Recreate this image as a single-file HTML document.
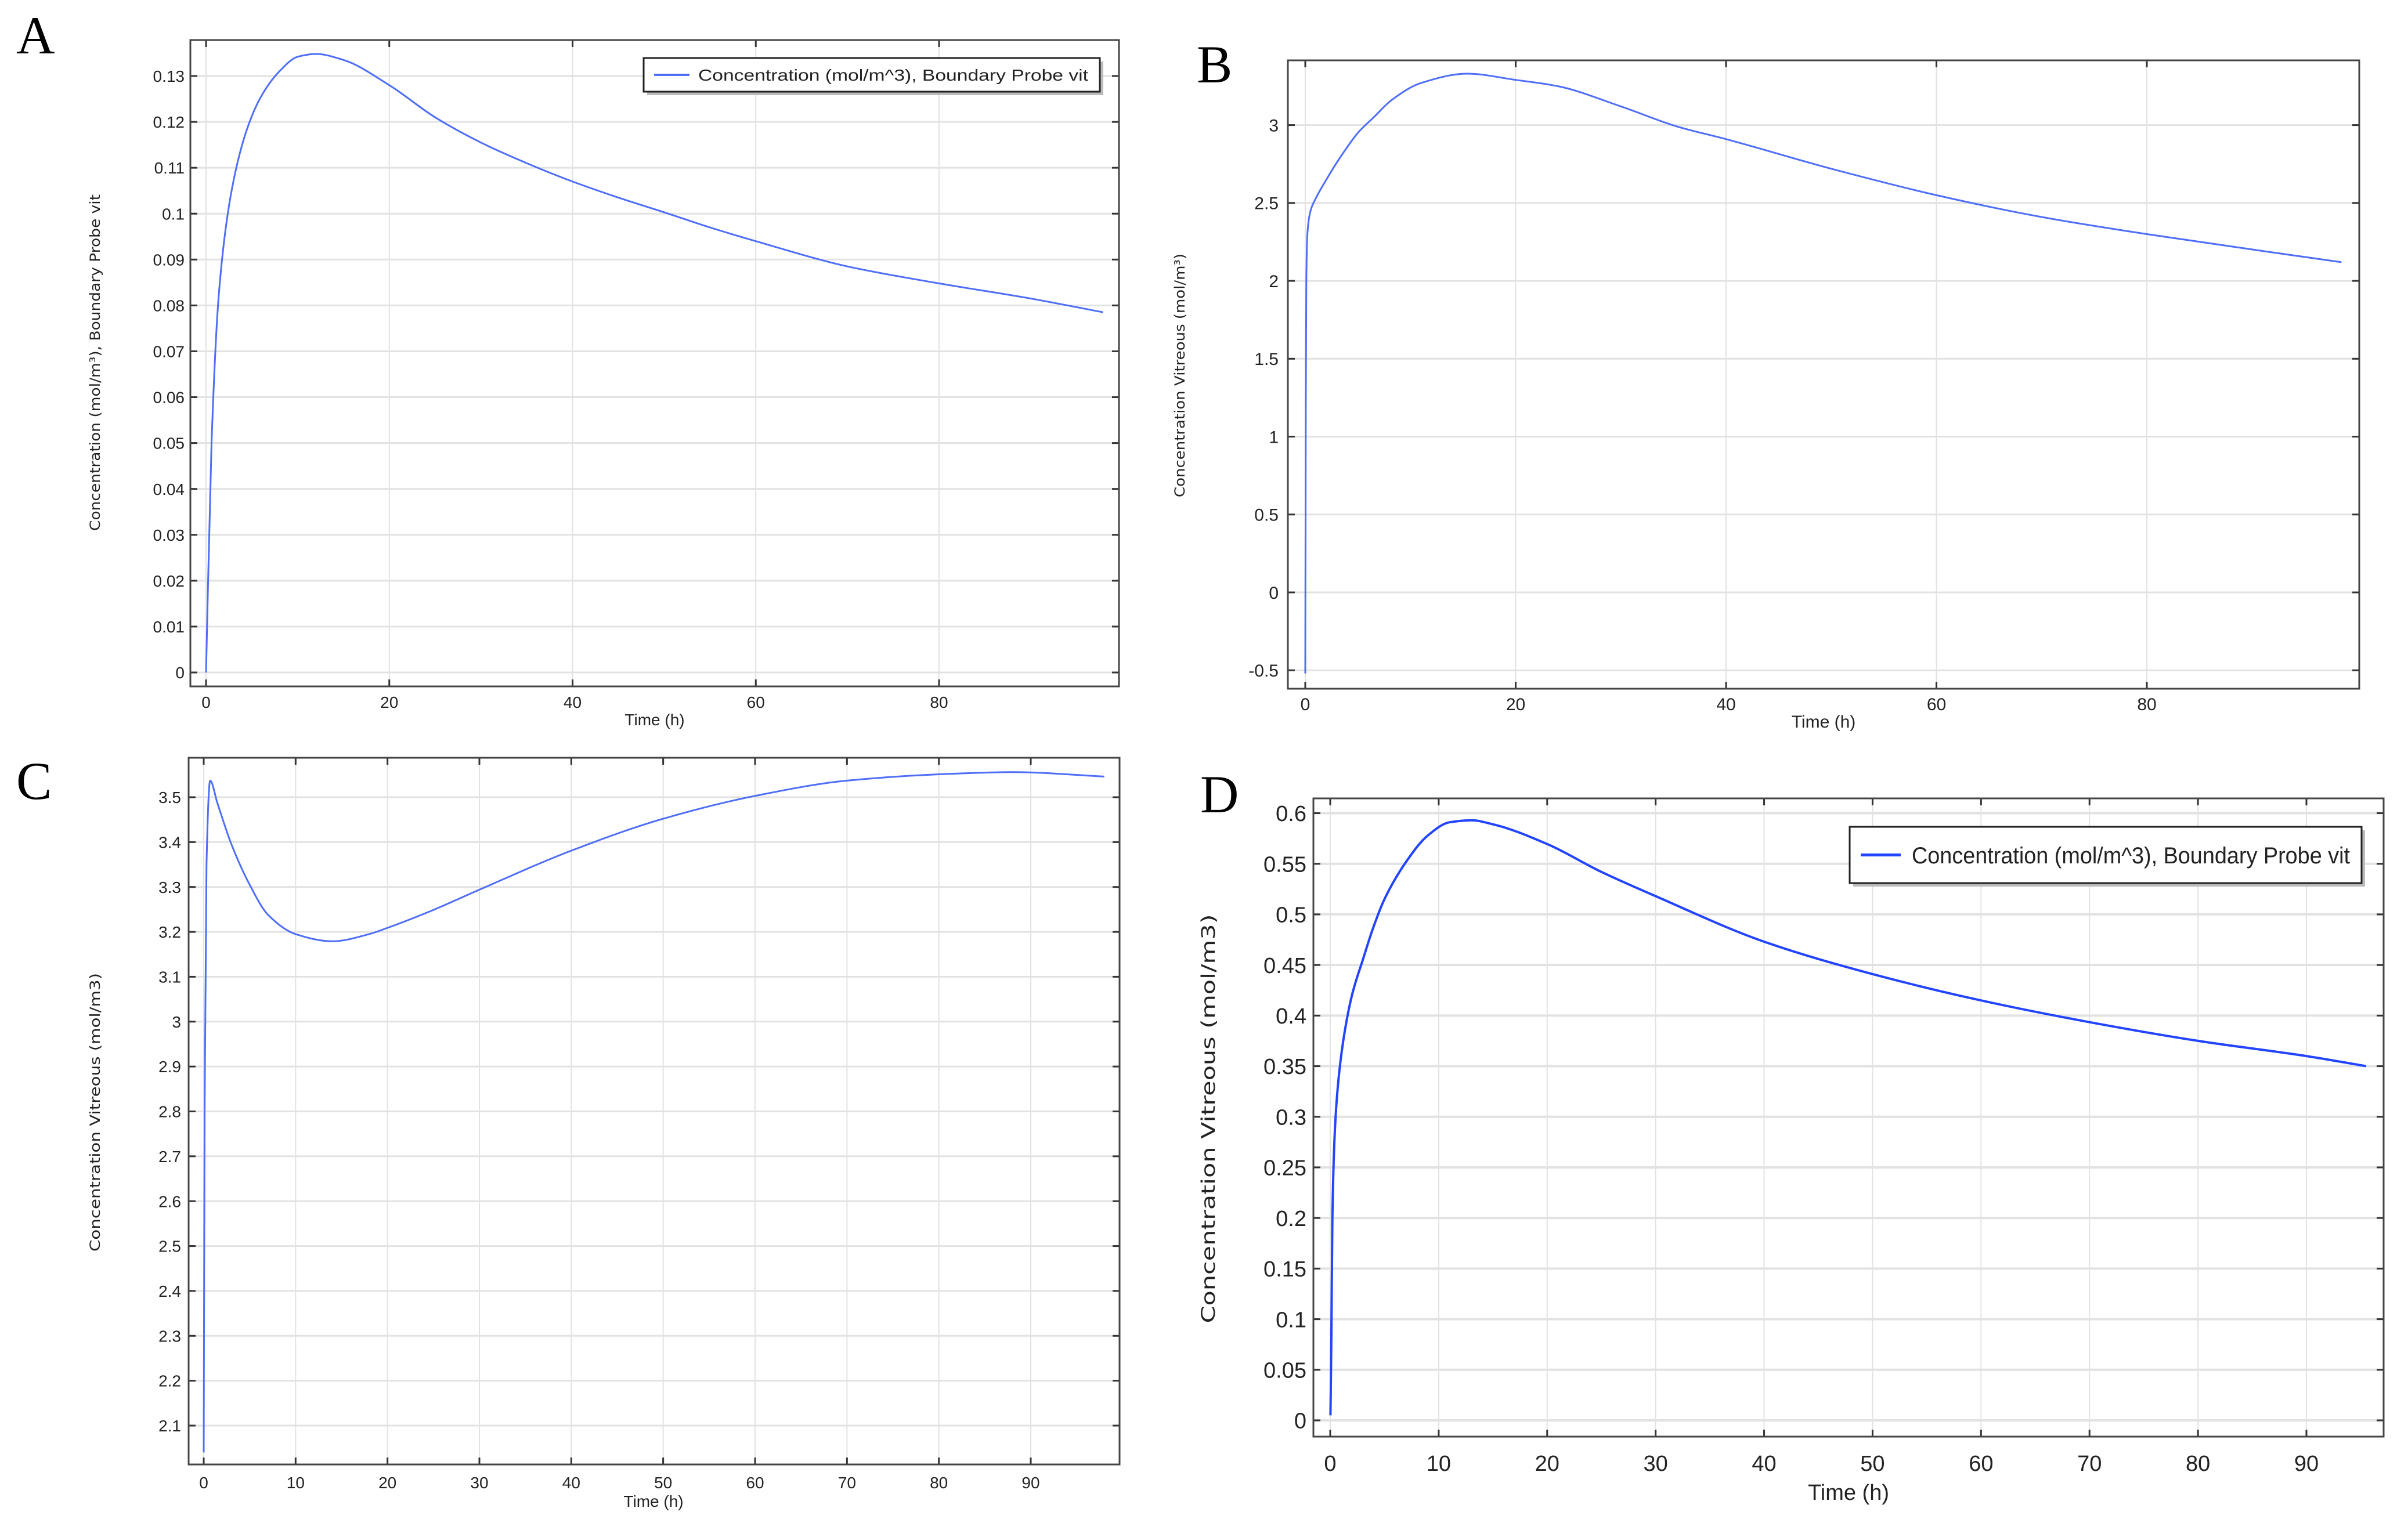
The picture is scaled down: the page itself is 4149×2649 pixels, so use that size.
<!DOCTYPE html>
<html><head><meta charset="utf-8"><style>
html,body{margin:0;padding:0;background:#fff}
svg{display:block}
text{font-family:"Liberation Sans",sans-serif}
.lbl{font-family:"Liberation Serif",serif;font-size:92px;fill:#000}
.ttl{font-family:"DejaVu Sans","Liberation Sans",sans-serif;fill:#222}
</style></head><body>
<svg id="fig" width="4149" height="2649" viewBox="0 0 4149 2649" xmlns="http://www.w3.org/2000/svg">
<text class="lbl" x="28" y="92">A</text>
<text class="lbl" x="2062" y="142">B</text>
<text class="lbl" x="28" y="1377">C</text>
<text class="lbl" x="2068" y="1400">D</text>
</svg>
<script>
// Panel A data
const aTime=[0,0.6,1.4,2.7,4.4,6,8,10,12,15,20,25,30,35,40,45,50,55,60,70,80,90,97.9];
const aConc=[0,0.05,0.0825,0.104,0.118,0.1255,0.131,0.1342,0.1348,0.1335,0.128,0.121,0.1155,0.111,0.107,0.1035,0.1003,0.097,0.094,0.0885,0.0848,0.0815,0.0785];
const aXTicks=[0,20,40,60,80];
const aYTicks=[0,0.01,0.02,0.03,0.04,0.05,0.06,0.07,0.08,0.09,0.1,0.11,0.12,0.13];
// Panel B data
const bTime=[0,0.05,0.1,0.2,0.5,1,2,3,4,5,6.5,8.2,11,15.4,20,24,30,35.4,40,50,60,70,80,98.5];
const bConc=[-0.52,1.2,2.0,2.3,2.45,2.53,2.65,2.76,2.86,2.95,3.05,3.16,3.27,3.33,3.29,3.25,3.12,2.99,2.91,2.72,2.55,2.41,2.30,2.12];
const bXTicks=[0,20,40,60,80];
const bYTicks=[-0.5,0,0.5,1,1.5,2,2.5,3];
// Panel C data
const cTime=[0,0.1,0.3,0.7,1.5,3,5,7,10,14,18,20,25,30,40,50,60,70,80,88,98];
const cConc=[2.04,2.81,3.35,3.537,3.486,3.396,3.305,3.238,3.195,3.179,3.195,3.209,3.249,3.294,3.381,3.452,3.503,3.537,3.551,3.556,3.546];
const cXTicks=[0,10,20,30,40,50,60,70,80,90];
const cYTicks=[2.1,2.2,2.3,2.4,2.5,2.6,2.7,2.8,2.9,3,3.1,3.2,3.3,3.4,3.5];
// Panel D data
const dTime=[0.02,0.1,0.2,0.4,0.7,1.2,2,3,4,5,7,9,11,13,15,20,25,30,40,50,60,70,80,90,95.5];
const dConc=[0.005,0.08,0.2,0.28,0.33,0.375,0.42,0.455,0.488,0.515,0.552,0.578,0.591,0.593,0.589,0.5695,0.542,0.518,0.473,0.441,0.415,0.3935,0.375,0.36,0.35];
const dXTicks=[0,10,20,30,40,50,60,70,80,90];
const dYTicks=[0,0.05,0.1,0.15,0.2,0.25,0.3,0.35,0.4,0.45,0.5,0.55,0.6];

const NS="http://www.w3.org/2000/svg";
const svg=document.getElementById('fig');
function mk(tag,attrs,parent){const e=document.createElementNS(NS,tag);for(const k in attrs)e.setAttribute(k,attrs[k]);(parent||svg).appendChild(e);return e;}

function monoPath(px,py){
  const n=px.length;
  if(n<3){return px.map((x,i)=>(i?'L':'M')+x.toFixed(1)+' '+py[i].toFixed(1)).join('');}
  const dx=[],s=[];
  for(let i=0;i<n-1;i++){dx.push(px[i+1]-px[i]);s.push((py[i+1]-py[i])/(dx[i]||1e-6));}
  const m=new Array(n);
  m[0]=s[0];m[n-1]=s[n-2];
  for(let i=1;i<n-1;i++){
    if(s[i-1]*s[i]<=0)m[i]=0;
    else{const w1=2*dx[i]+dx[i-1],w2=dx[i]+2*dx[i-1];m[i]=(w1+w2)/(w1/s[i-1]+w2/s[i]);}
  }
  let d='M'+px[0].toFixed(1)+' '+py[0].toFixed(1);
  for(let i=0;i<n-1;i++){
    const h=dx[i]/3;
    d+='C'+(px[i]+h).toFixed(1)+' '+(py[i]+m[i]*h).toFixed(1)+' '+(px[i+1]-h).toFixed(1)+' '+(py[i+1]-m[i+1]*h).toFixed(1)+' '+px[i+1].toFixed(1)+' '+py[i+1].toFixed(1);
  }
  return d;
}

function panel(id,cfg,xs,ys,xt,yt){
  const g=mk('g',{});
  
  
  const X=v=>cfg.x0px+(v-cfg.xa)*(cfg.x1px-cfg.x0px)/(cfg.xb-cfg.xa);
  const Y=v=>cfg.y0px+(v-cfg.ya)*(cfg.y1px-cfg.y0px)/(cfg.yb-cfg.ya);
  const bg=mk('rect',{x:cfg.L,y:cfg.T,width:cfg.R-cfg.L,height:cfg.B-cfg.T,fill:'#fff'},g);
  
  
  xt.forEach(v=>{
    const x=X(v);
    const gl=mk('line',{x1:x,x2:x,y1:cfg.T,y2:cfg.B,stroke:'#e2e2e2','stroke-width':2},g);
    
    
    mk('line',{x1:x,x2:x,y1:cfg.B,y2:cfg.B-12,stroke:'#333','stroke-width':3},g);
    mk('line',{x1:x,x2:x,y1:cfg.T,y2:cfg.T+12,stroke:'#333','stroke-width':3},g);
    const t=mk('text',{x:x,y:cfg.xLabY,'text-anchor':'middle','font-size':cfg.tickFs,fill:'#222'},g);
    
    
    t.textContent=String(v);
  });
  yt.forEach(v=>{
    const y=Y(v);
    const gl=mk('line',{x1:cfg.L,x2:cfg.R,y1:y,y2:y,stroke:'#e2e2e2','stroke-width':cfg.gridW},g);
    
    
    mk('line',{x1:cfg.L,x2:cfg.L+12,y1:y,y2:y,stroke:'#333','stroke-width':3},g);
    mk('line',{x1:cfg.R,x2:cfg.R-12,y1:y,y2:y,stroke:'#333','stroke-width':3},g);
    const t=mk('text',{x:cfg.yLabX,y:y+cfg.tickFs*0.36,'text-anchor':'end','font-size':cfg.tickFs,fill:'#222'},g);
    
    
    t.textContent=String(v);
  });
  const fr=mk('rect',{x:cfg.L,y:cfg.T,width:cfg.R-cfg.L,height:cfg.B-cfg.T,fill:'none',stroke:'#444','stroke-width':3},g);
  
  
  const d=monoPath(xs.map(X),ys.map(Y));
  const p=mk('path',{d:d,fill:'none',stroke:cfg.color,'stroke-width':cfg.lw,'stroke-linejoin':'round'},g);
  
  
  const xtl=mk('text',{x:cfg.xTitleX,y:cfg.xTitleY,'text-anchor':'middle','font-size':cfg.titleFs,fill:'#222'},g);
  
  
  xtl.textContent='Time (h)';
  const ytl=mk('text',{x:0,y:0,'text-anchor':'middle','font-size':cfg.yTitleFs,class:'ttl',transform:`translate(${cfg.yTitleX},${cfg.yTitleY}) rotate(-90)`,textLength:cfg.yTitleLen,lengthAdjust:'spacingAndGlyphs'},g);
  
  
  ytl.innerHTML=cfg.yTitle;
  if(cfg.leg){
    const lg=mk('g',{},g);
    
    
    const l=cfg.leg;
    mk('rect',{x:l.x+6,y:l.y+6,width:l.w,height:l.h,fill:'#bbb'},lg);
    mk('rect',{x:l.x,y:l.y,width:l.w,height:l.h,fill:'#fff',stroke:'#222','stroke-width':3},lg);
    mk('line',{x1:l.lx1,x2:l.lx2,y1:l.y+l.h/2,y2:l.y+l.h/2,stroke:cfg.color,'stroke-width':cfg.lw+1},lg);
    const lt=mk('text',{x:l.tx,y:l.y+l.h/2+l.fs*0.36,'font-size':l.fs,fill:'#222',textLength:l.tw,lengthAdjust:'spacingAndGlyphs'},lg);
    
    
    lt.textContent='Concentration (mol/m^3), Boundary Probe vit';
  }
}

panel('a',{L:328,R:1928,T:69,B:1183,xa:0,xb:80,x0px:355,x1px:1618,ya:0,yb:0.13,y0px:1159,y1px:131,
  color:'#4f6ef7',lw:3,gridW:3,tickFs:28,xLabY:1220,yLabX:318,xTitleX:1128,xTitleY:1250,titleFs:28,
  yTitleX:172,yTitleY:625,yTitleFs:24,yTitleLen:580,yTitle:'Concentration (mol/m³), Boundary Probe vit',
  leg:{x:1109,y:100,w:786,h:58,lx1:1127,lx2:1188,tx:1203,tw:672,fs:28}},aTime,aConc,aXTicks,aYTicks);

panel('b',{L:2219,R:4065,T:104,B:1187,xa:0,xb:80,x0px:2249,x1px:3699,ya:0,yb:3,y0px:1021,y1px:215.6,
  color:'#4f6ef7',lw:3,gridW:3,tickFs:30,xLabY:1224,yLabX:2203,xTitleX:3142,xTitleY:1254,titleFs:30,
  yTitleX:2041,yTitleY:647,yTitleFs:24,yTitleLen:420,yTitle:'Concentration Vitreous (mol/m³)'},bTime,bConc,bXTicks,bYTicks);

panel('c',{L:325,R:1929,T:1306,B:2524,xa:0,xb:90,x0px:351,x1px:1776,ya:2.1,yb:3.5,y0px:2457,y1px:1374,
  color:'#4f6ef7',lw:3,gridW:3,tickFs:28,xLabY:2565,yLabX:312,xTitleX:1126,xTitleY:2597,titleFs:28,
  yTitleX:172,yTitleY:1917,yTitleFs:24,yTitleLen:480,yTitle:'Concentration Vitreous (mol/m3)'},cTime,cConc,cXTicks,cYTicks);

panel('d',{L:2263,R:4107,T:1376,B:2476,xa:0,xb:90,x0px:2292,x1px:3974,ya:0,yb:0.6,y0px:2448,y1px:1401.5,
  color:'#2244ff',lw:4,gridW:4,tickFs:38,xLabY:2535,yLabX:2251,xTitleX:3185,xTitleY:2585,titleFs:38,
  yTitleX:2093,yTitleY:1928,yTitleFs:32,yTitleLen:705,yTitle:'Concentration Vitreous (mol/m3)',
  leg:{x:3187,y:1425,w:882,h:97,lx1:3206,lx2:3275,tx:3294,tw:755,fs:40}},dTime,dConc,dXTicks,dYTicks);
</script>
</body></html>
